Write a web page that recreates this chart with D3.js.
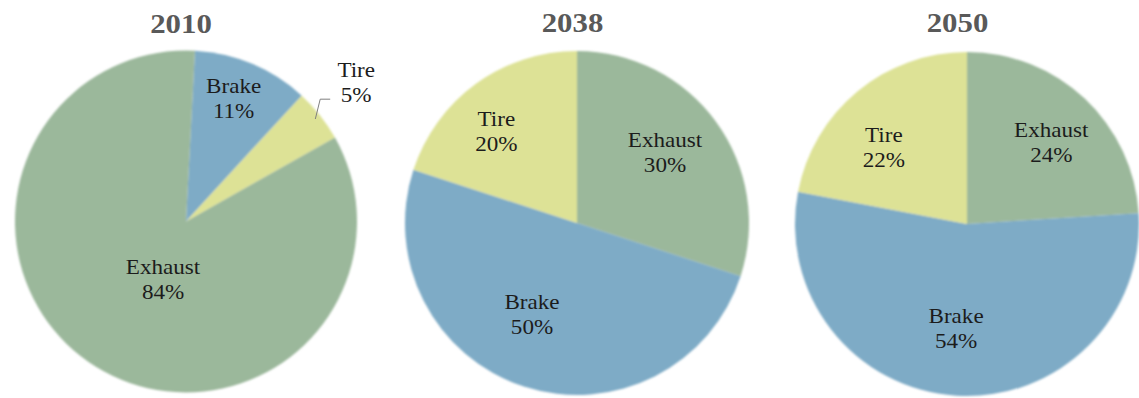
<!DOCTYPE html>
<html>
<head>
<meta charset="utf-8">
<script src="https://cdn.jsdelivr.net/npm/d3@7"></script>
<style>
  html, body { margin: 0; padding: 0; background: #ffffff; }
  svg { display: block; }
</style>
</head>
<body>
<svg id="chart" width="1139" height="398"></svg>
<script>
// Share of non-exhaust vs exhaust particle emissions, by year
const years = ["2010", "2038", "2050"];
const categories2010 = ["Brake", "Tire", "Exhaust"];
const values2010 = [11, 5, 84];
const categories2038 = ["Exhaust", "Brake", "Tire"];
const values2038 = [30, 50, 20];
const categories2050 = ["Exhaust", "Brake", "Tire"];
const values2050 = [24, 54, 22];

const colors = { Exhaust: "#9bb89b", Brake: "#7eabc6", Tire: "#dde296" };

// layout of each pie panel
const panels = [
  { cx: 186, cy: 221.5, r: 171, rotate: 3, titleDx: -5, titleY: 33,
    nudges: { Brake: [5, -18], Tire: [84, -67], Exhaust: [35, -32] }, outside: "Tire" },
  { cx: 577, cy: 223, r: 172, rotate: 0, titleDx: -4.5, titleY: 32,
    nudges: { Exhaust: [-1, -2], Brake: [-11, -10], Tire: [-16, 1] } },
  { cx: 967, cy: 224, r: 172, rotate: 0, titleDx: -9.5, titleY: 32,
    nudges: { Exhaust: [9, 2], Brake: [-4, -2], Tire: [-13, 12] } }
];
const datasets = [
  { cats: categories2010, vals: values2010 },
  { cats: categories2038, vals: values2038 },
  { cats: categories2050, vals: values2050 }
];

const svg = d3.select("#chart");
const defs = svg.append("defs");
defs.append("filter").attr("id", "soft")
  .attr("x", "-5%").attr("y", "-5%").attr("width", "110%").attr("height", "110%")
  .append("feGaussianBlur").attr("stdDeviation", 0.9);

const serif = "'Liberation Serif', 'Times New Roman', serif";
const stretch = 1.1;

panels.forEach((p, i) => {
  const ds = datasets[i];
  const rows = ds.cats.map((c, k) => ({ cat: c, val: ds.vals[k] }));
  const rot = p.rotate * Math.PI / 180;
  const pie = d3.pie().sort(null).value(d => d.val)
    .startAngle(rot).endAngle(rot + 2 * Math.PI);
  const arcs = pie(rows);
  const arc = d3.arc().innerRadius(0).outerRadius(p.r);
  const labelArc = d3.arc().innerRadius(110).outerRadius(110);
  const rimArc = d3.arc().innerRadius(p.r * 0.965).outerRadius(p.r * 0.965);

  const g = svg.append("g").attr("transform", `translate(${p.cx},${p.cy})`);

  g.append("g").attr("filter", "url(#soft)")
    .selectAll("path").data(arcs).join("path")
    .attr("d", arc)
    .attr("fill", d => colors[d.data.cat]);

  // title
  svg.append("text")
    .attr("transform", `translate(${p.cx + p.titleDx},${p.titleY}) scale(${stretch},1)`)
    .attr("text-anchor", "middle")
    .attr("font-family", serif)
    .attr("font-weight", "bold")
    .attr("font-size", 28)
    .attr("fill", "#595959")
    .text(years[i]);

  // slice labels
  arcs.forEach(a => {
    const c = labelArc.centroid(a);
    const n = p.nudges[a.data.cat];
    const x = c[0] + n[0], y = c[1] + n[1];
    const t = g.append("text")
      .attr("transform", `translate(${x},${y}) scale(${stretch},1)`)
      .attr("text-anchor", "middle")
      .attr("font-family", serif)
      .attr("font-size", 21)
      .attr("fill", "#1c1c1c");
    t.append("tspan").attr("x", 0).attr("y", -9).text(a.data.cat);
    t.append("tspan").attr("x", 0).attr("y", 16).text(a.data.val + "%");

    if (p.outside === a.data.cat) {
      const s = rimArc.centroid(a);
      g.append("polyline")
        .attr("points", [[s[0], s[1]], [x - 36, y + 13], [x - 26, y + 13]].map(q => q.join(",")).join(" "))
        .attr("fill", "none")
        .attr("stroke", "#7f7f7f")
        .attr("stroke-width", 1);
    }
  });
});
</script>
</body>
</html>
